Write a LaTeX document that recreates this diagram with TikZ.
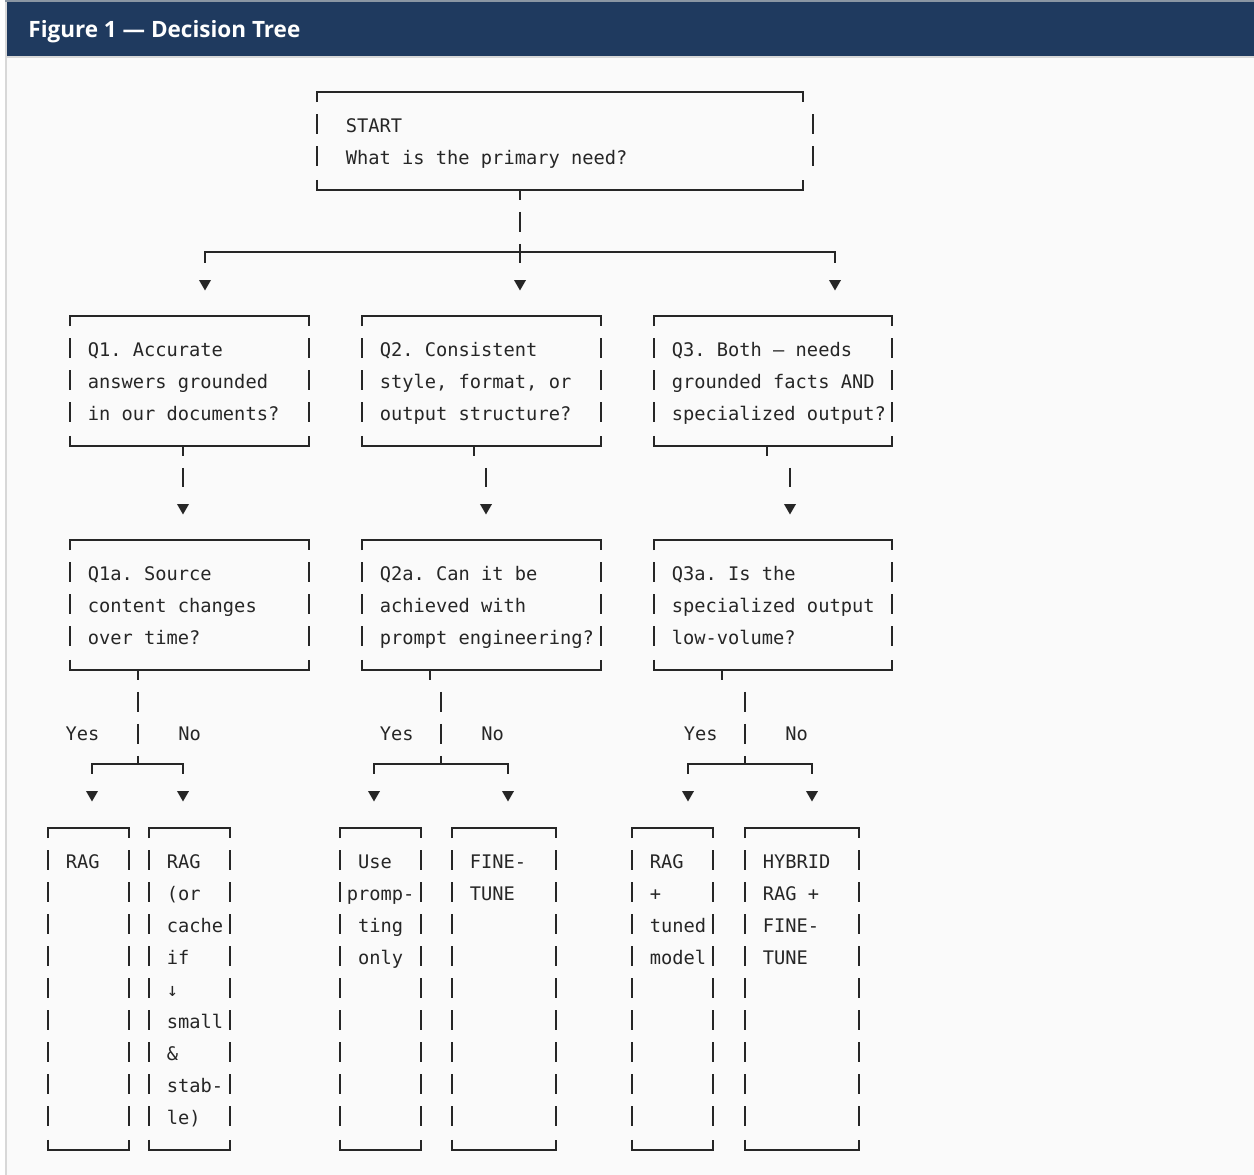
\documentclass[tikz,border=0pt]{standalone}
\usepackage{fontspec}
\setmonofont{DejaVu Sans Mono}
\newfontfamily\headfont{Open Sans}
\usetikzlibrary{shapes.geometric}
\definecolor{ink}{HTML}{262626}
\definecolor{navy}{HTML}{1F3A5F}
\definecolor{panel}{HTML}{FAFAFA}
\definecolor{rim}{HTML}{D8D8D8}
\definecolor{barline}{HTML}{8A96A3}
\newcommand\asciifont{\ttfamily\fontsize{18.7pt}{32pt}\selectfont}
\newcommand\boxstrut{\rule{0pt}{20pt}}
% frame of a text box: solid top and bottom, broken sides
\newcommand\asciibox[2][0]{%
  \draw (#2.north west) ++(0,10) |- (#2.north east) -- ++(0,10);
  \draw (#2.south west) ++(0,-10) |- (#2.south east) -- ++(0,-10);
  \draw[sides] ([shift={(0,22)}]#2.north west) -- ([shift={(0,-22)}]#2.south west);
  \draw[sides] ([shift={(#1,22)}]#2.north east) -- ([shift={(#1,-22)}]#2.south east);
}
\begin{document}
\begin{tikzpicture}[x=1pt, y=-1pt, line width=1.8pt, color=ink,
  frame/.style={rectangle, inner sep=0pt, anchor=north west},
  txt/.style={anchor=north west, inner sep=0pt, align=left, font=\asciifont},
  lbl/.style={anchor=base west, inner sep=0pt, font=\asciifont},
  tri/.style={regular polygon, regular polygon sides=3, shape border rotate=180,
    fill=ink, inner sep=0pt, minimum size=13.9pt},
  sides/.style={dash pattern=on 20pt off 12pt},
  stem/.style={shorten <=22pt, shorten >=21pt},
  fork/.style={shorten >=21pt}]
  \useasboundingbox (0,0) rectangle (1254,1175);
  \fill[white] (0,0) rectangle (1254,1175);
  \fill[panel] (7,0) rectangle (1254,1175);
  \fill[rim] (5,0) rectangle (7,1175);
  \fill[navy] (7,0) rectangle (1254,56);
  \fill[barline] (5,0) rectangle (1254,2);
  \fill[rim] (7,56) rectangle (1254,58);
  \node[anchor=base west, inner sep=0pt, text=white,
    font=\headfont\bfseries\fontsize{22.5pt}{26pt}\selectfont]
    (title) at (27.5,37.5) {Figure 1 — Decision Tree};

  % boxes
  \node[frame, minimum width=484, minimum height=96] (start) at (317,92) {};
  \node[frame, minimum width=237, minimum height=128] (q1) at (70,316) {};
  \node[frame, minimum width=237, minimum height=128] (q2) at (362,316) {};
  \node[frame, minimum width=236, minimum height=128] (q3) at (654,316) {};
  \node[frame, minimum width=237, minimum height=128] (q1a) at (70,540) {};
  \node[frame, minimum width=237, minimum height=128] (q2a) at (362,540) {};
  \node[frame, minimum width=236, minimum height=128] (q3a) at (654,540) {};
  \node[frame, minimum width=79, minimum height=320] (r1) at (48,828) {};
  \node[frame, minimum width=79, minimum height=320] (r2) at (149,828) {};
  \node[frame, minimum width=79, minimum height=320] (r3) at (340,828) {};
  \node[frame, minimum width=102, minimum height=320] (r4) at (452,828) {};
  \node[frame, minimum width=79, minimum height=320] (r5) at (632,828) {};
  \node[frame, minimum width=112, minimum height=320] (r6) at (745,828) {};
  \asciibox[10]{start}
  \foreach \b in {q1,q2,q3,q1a,q2a,q3a,r1,r2,r3,r4,r5,r6}{
    \asciibox{\b}
  }

  % texts
  \node[txt] (start-t) at ([shift={(28,20)}]start.north west)
    {\boxstrut START\\What is the primary need?};
  \node[txt] (q1-t) at ([shift={(17,20)}]q1.north west)
    {\boxstrut Q1. Accurate\\answers grounded\\in our documents?};
  \node[txt] (q2-t) at ([shift={(17,20)}]q2.north west)
    {\boxstrut Q2. Consistent\\style, format, or\\output structure?};
  \node[txt] (q3-t) at ([shift={(17,20)}]q3.north west)
    {\boxstrut Q3. Both — needs\\grounded facts AND\\specialized output?};
  \node[txt] (q1a-t) at ([shift={(17,20)}]q1a.north west)
    {\boxstrut Q1a. Source\\content changes\\over time?};
  \node[txt] (q2a-t) at ([shift={(17,20)}]q2a.north west)
    {\boxstrut Q2a. Can it be\\achieved with\\prompt engineering?};
  \node[txt] (q3a-t) at ([shift={(17,20)}]q3a.north west)
    {\boxstrut Q3a. Is the\\specialized output\\low-volume?};
  \node[txt] (r1-t) at ([shift={(17,20)}]r1.north west) {\boxstrut RAG};
  \node[txt] (r2-t) at ([shift={(17,20)}]r2.north west)
    {\boxstrut RAG\\(or\\cache\\if\\↓\\small\\\&\\stab-\\le)};
  \node[txt] (r3-t) at ([shift={(6,20)}]r3.north west)
    {\boxstrut\hphantom{x}Use\\promp-\\\hphantom{x}ting\\\hphantom{x}only};
  \node[txt] (r4-t) at ([shift={(17,20)}]r4.north west) {\boxstrut FINE-\\TUNE};
  \node[txt] (r5-t) at ([shift={(17,20)}]r5.north west)
    {\boxstrut RAG\\+\\tuned\\model};
  \node[txt] (r6-t) at ([shift={(17,20)}]r6.north west)
    {\boxstrut HYBRID\\RAG +\\FINE-\\TUNE};

  % yes / no
  \node[lbl] (y1) at (64.8,740) {Yes};
  \node[lbl] (n1) at (177.5,740) {No};
  \node[lbl] (y2) at (379,740) {Yes};
  \node[lbl] (n2) at (480.5,740) {No};
  \node[lbl] (y3) at (683,740) {Yes};
  \node[lbl] (n3) at (784.5,740) {No};

  % arrow heads
  \node[tri] (a1) at (205,283.5) {};
  \node[tri] (a2) at (520,283.5) {};
  \node[tri] (a3) at (835,283.5) {};
  \node[tri] (b1) at (183,507.5) {};
  \node[tri] (b2) at (486,507.5) {};
  \node[tri] (b3) at (790,507.5) {};
  \node[tri] (c1) at (92,794.5) {};
  \node[tri] (c2) at (183,794.5) {};
  \node[tri] (c3) at (374,794.5) {};
  \node[tri] (c4) at (508,794.5) {};
  \node[tri] (c5) at (688,794.5) {};
  \node[tri] (c6) at (812,794.5) {};

  \coordinate (f0) at (520,252);
  \coordinate (f1) at (138,764);
  \coordinate (f2) at (441,764);
  \coordinate (f3) at (745,764);

  % start -> questions
  \draw (start.south -| f0) -- ++(0,10);
  \draw[sides, stem] (a2 |- start.south) -- (a2.center);
  \draw[fork] (f0) -| (a1.center);
  \draw[fork] (f0) -| (a3.center);

  % questions -> follow-ups
  \foreach \q/\t/\x in {q1/b1/183, q2/b2/474, q3/b3/767}{
    \draw (\q.south -| \x,0) -- ++(0,10);
    \draw[stem] (\t |- \q.south) -- (\t.center);
  }

  % follow-ups -> answers
  \foreach \q/\f/\x in {q1a/f1/138, q2a/f2/430, q3a/f3/722}{
    \draw (\q.south -| \x,0) -- ++(0,10);
    \draw[sides, shorten <=22pt] (\f |- \q.south) -- (\f);
  }
  \foreach \f/\l/\r in {f1/c1/c2, f2/c3/c4, f3/c5/c6}{
    \draw[fork] (\f) -| (\l.center);
    \draw[fork] (\f) -| (\r.center);
  }
\end{tikzpicture}
\end{document}
